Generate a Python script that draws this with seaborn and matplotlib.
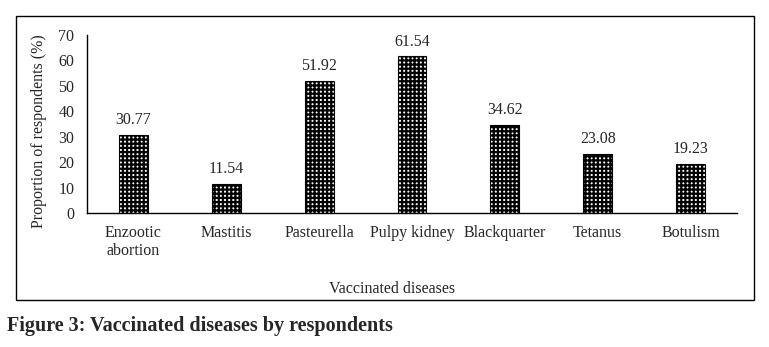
import matplotlib
matplotlib.use('Agg')
import matplotlib.pyplot as plt
import matplotlib.patches as mpatches
import seaborn as sns

# ── data ──────────────────────────────────────────────────────────
diseases = ['Enzootic\nabortion', 'Mastitis', 'Pasteurella', 'Pulpy kidney',
            'Blackquarter', 'Tetanus', 'Botulism']
proportions = [30.77, 11.54, 51.92, 61.54, 34.62, 23.08, 19.23]
yticks = [0, 10, 20, 30, 40, 50, 60, 70]

sns.set_theme(style='white')
plt.rcParams['font.family'] = ['Liberation Serif', 'DejaVu Serif']
plt.rcParams['hatch.linewidth'] = 1.6

fs = 11.5

fig = plt.figure(figsize=(7.69, 3.47), dpi=100)
ax = fig.add_axes([0.1131, 0.3862, 0.8453, 0.5130])

sns.barplot(x=diseases, y=proportions, color='white', edgecolor='black',
            linewidth=0.8, width=0.31, ax=ax, saturation=1)
for p in ax.patches:
    p.set_hatch('++++')

ax.bar_label(ax.containers[0], fmt='%.2f', padding=5, fontsize=fs)

ax.set_ylim(0, 70)
ax.set_yticks(yticks)
ax.set_xlim(-0.5, len(diseases) - 0.5)
ax.tick_params(axis='both', labelsize=fs, length=0)
ax.tick_params(axis='y', pad=9)
ax.tick_params(axis='x', pad=9)
for lbl in ax.get_xticklabels():
    lbl.set_linespacing(1.15)
for s in ['top', 'right']:
    ax.spines[s].set_visible(False)
for s in ['left', 'bottom']:
    ax.spines[s].set_color('black')
    ax.spines[s].set_linewidth(1.0)

ax.set_ylabel('Proportion of respondents (%)', fontsize=fs)
ax.yaxis.set_label_coords(-0.0615, 0.46)
ax.set_xlabel('Vaccinated diseases', fontsize=fs)
ax.xaxis.set_label_coords(0.470, -0.38)

# outer frame around the chart
frame = mpatches.Rectangle((0.0208, 0.1354), 0.9597, 0.8185,
                           transform=fig.transFigure, fill=False,
                           edgecolor='black', linewidth=1.0)
fig.patches.append(frame)

fig.text(0.009, 0.06, 'Figure 3: Vaccinated diseases by respondents',
         fontsize=14.5, fontweight='bold', va='center', ha='left')

fig.savefig('out.png', dpi=100)
